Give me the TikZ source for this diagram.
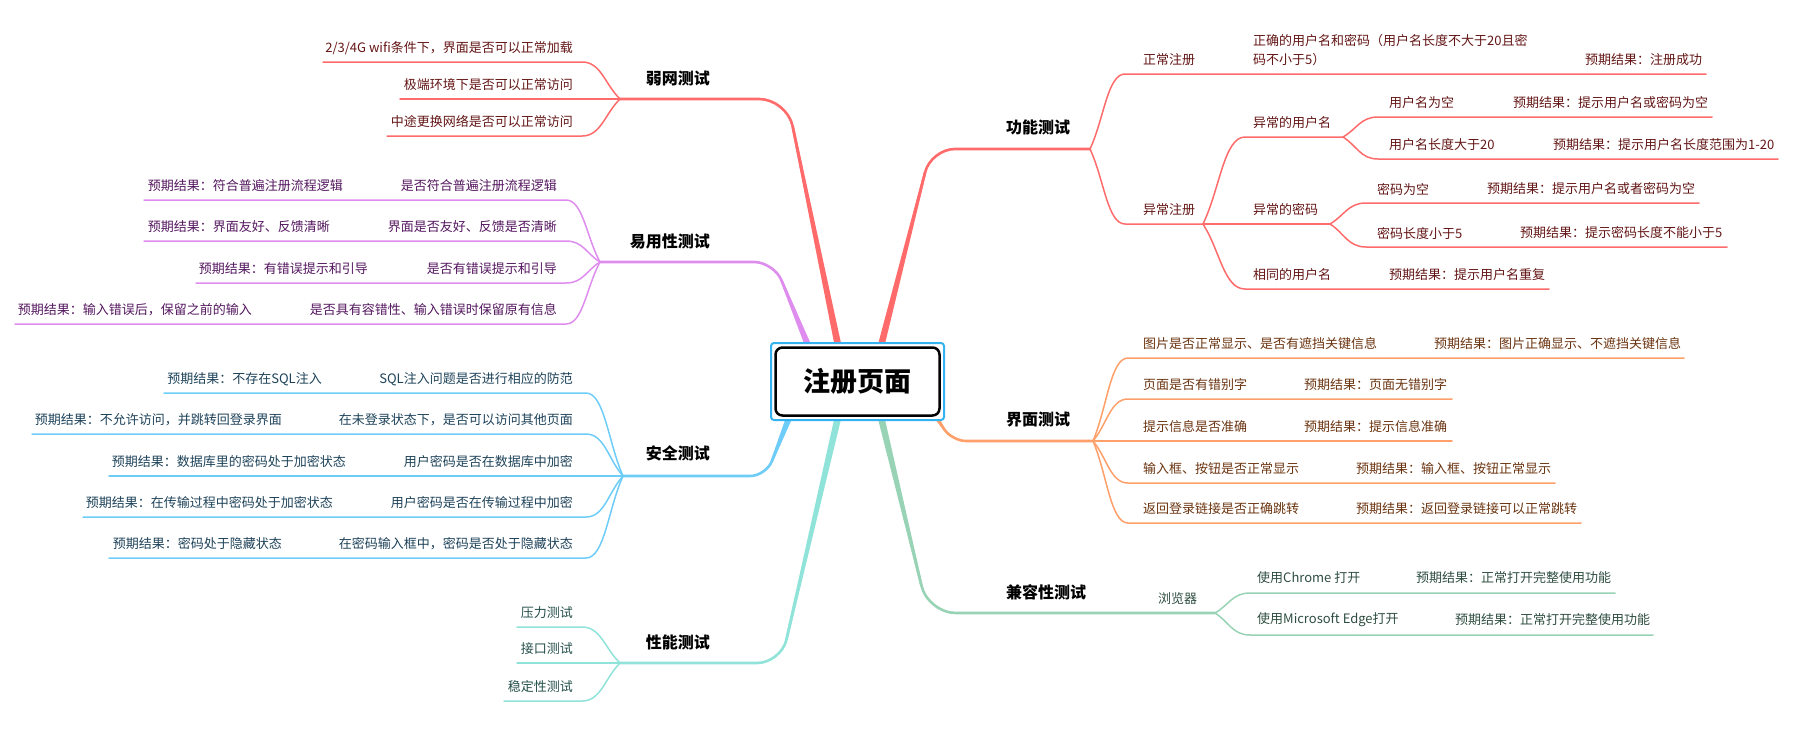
\documentclass[tikz,border=0pt]{standalone}
\usepackage{fontspec}
\newfontfamily\cjk{Noto Sans CJK SC}
\usetikzlibrary{calc}
\definecolor{br-red}{HTML}{FF6B6B}
\definecolor{br-orange}{HTML}{FF9F69}
\definecolor{br-green}{HTML}{98D3B5}
\definecolor{br-violet}{HTML}{DF8CEF}
\definecolor{br-blue}{HTML}{6ECCF8}
\definecolor{br-teal}{HTML}{8FE3D9}
\definecolor{ring-blue}{HTML}{34B3F0}
\definecolor{tx-red}{HTML}{641616}
\definecolor{tx-orange}{HTML}{6B3410}
\definecolor{tx-green}{HTML}{2E4D40}
\definecolor{tx-violet}{HTML}{54175F}
\definecolor{tx-blue}{HTML}{1D4259}
\definecolor{tx-teal}{HTML}{25504B}
\begin{document}
\begin{tikzpicture}[x=1pt, y=-1pt, line cap=round,
    txt/.style={inner sep=0pt, font=\cjk\fontsize{13}{16}\selectfont},
    topic/.style={inner sep=0pt, anchor=west, font=\cjk\bfseries\fontsize{16}{18}\selectfont},
    topicl/.style={topic, anchor=east},
    rr/.style={txt, text=tx-red, anchor=west},
    rl/.style={txt, text=tx-red, anchor=east},
    or/.style={txt, text=tx-orange, anchor=west},
    gr/.style={txt, text=tx-green, anchor=west},
    vl/.style={txt, text=tx-violet, anchor=east},
    bl/.style={txt, text=tx-blue, anchor=east},
    tl/.style={txt, text=tx-teal, anchor=east},
    ring/.style={draw=ring-blue, fill=white, line width=2pt, rounded corners=3pt, minimum width=173pt, minimum height=77pt},
    rootbox/.style={draw, fill=white, line width=2.5pt, rounded corners=7pt, minimum width=164pt, minimum height=68pt, font=\cjk\bfseries\fontsize{27}{30}\selectfont},
    fan/.style={to path={.. controls ($(\tikztostart)!0.4!(\tikztotarget)$) and ($(\tikztotarget)!0.5!(\tikztostart |- \tikztotarget)$) .. (\tikztotarget)}},
    redl/.style={draw=br-red, line width=1.5pt},
    oral/.style={draw=br-orange, line width=1.5pt},
    grnl/.style={draw=br-green, line width=1.5pt},
    viol/.style={draw=br-violet, line width=1.5pt},
    blul/.style={draw=br-blue, line width=1.5pt},
    teal/.style={draw=br-teal, line width=1.5pt}]
  \useasboundingbox (0,0) rectangle (1794,732);

  % main branches: root point, corner, junction
  \coordinate (gn-R) at (880,350);  \coordinate (gn-C) at (931,149); \coordinate (gn-J) at (1090,149);
  \coordinate (jm-R) at (930,408);  \coordinate (jm-C) at (952,441); \coordinate (jm-J) at (1093,441);
  \coordinate (jr-R) at (880,413);  \coordinate (jr-C) at (928,613); \coordinate (jr-J) at (1215,613);
  \coordinate (rw-R) at (839,350);  \coordinate (rw-C) at (787,99);  \coordinate (rw-J) at (620,99);
  \coordinate (yy-R) at (810,350);  \coordinate (yy-C) at (774,262); \coordinate (yy-J) at (600,262);
  \coordinate (aq-R) at (791,413);  \coordinate (aq-C) at (766,476); \coordinate (aq-J) at (623,476);
  \coordinate (xn-R) at (839,413);  \coordinate (xn-C) at (781,663); \coordinate (xn-J) at (620,663);

  \foreach \br/\cl/\rc in {gn/br-red/24pt, rw/br-red/28pt, yy/br-violet/20pt, aq/br-blue/16pt,
                           xn/br-teal/24pt, jm/br-orange/14pt, jr/br-green/28pt} {
    \fill[\cl] ($(\br-R)+(-3.5,0)$) -- ($(\br-C)!\rc!(\br-R)+(-1.3,0)$)
      -- ($(\br-C)!\rc!(\br-R)+(1.3,0)$) -- ($(\br-R)+(3.5,0)$) -- cycle;
    \draw[\cl, line width=2.6pt, rounded corners=\rc] (\br-R) -- (\br-C) -- (\br-J);
  }

  \node[ring] (ring) at (857.5,381.5) {};
  \node[rootbox] (root) at (857.5,381.5) {注册页面};

  % 功能测试
  \node[topic] (gn) at (1006,127) {功能测试};
  \node[rr] (zc) at (1143,60) {正常注册};
  \node[rr, align=left, font=\cjk\fontsize{13}{19}\selectfont] (zc1) at (1253,50.5) {正确的用户名和密码（用户名长度不大于20且密\\码不小于5）};
  \node[rr] (zc2) at (1585,60) {预期结果：注册成功};
  \node[rr] (yc) at (1143,210) {异常注册};
  \node[rr] (ym) at (1253,123) {异常的用户名};
  \node[rr] (ym1) at (1389,103) {用户名为空};
  \node[rr] (ym1a) at (1513,103) {预期结果：提示用户名或密码为空};
  \node[rr] (ym2) at (1389,145) {用户名长度大于20};
  \node[rr] (ym2a) at (1553,145) {预期结果：提示用户名长度范围为1-20};
  \node[rr] (mm) at (1253,210) {异常的密码};
  \node[rr] (mm1) at (1377,189) {密码为空};
  \node[rr] (mm1a) at (1487,189) {预期结果：提示用户名或者密码为空};
  \node[rr] (mm2) at (1377,233) {密码长度小于5};
  \node[rr] (mm2a) at (1520,233) {预期结果：提示密码长度不能小于5};
  \node[rr] (xt) at (1253,275) {相同的用户名};
  \node[rr] (xta) at (1389,275) {预期结果：提示用户名重复};

  \coordinate (zc-S) at (1125,74);   \coordinate (zc-E) at (1706,74);
  \coordinate (yc-S) at (1125,224);  \coordinate (yc-J) at (1203,224);
  \coordinate (ym-S) at (1245,137);  \coordinate (ym-J) at (1343,137);
  \coordinate (ym1-S) at (1378,117); \coordinate (ym1-E) at (1712,117);
  \coordinate (ym2-S) at (1378,159); \coordinate (ym2-E) at (1778,159);
  \coordinate (mm-J) at (1330,224);
  \coordinate (mm1-S) at (1366,203); \coordinate (mm1-E) at (1699,203);
  \coordinate (mm2-S) at (1366,247); \coordinate (mm2-E) at (1727,247);
  \coordinate (xt-S) at (1245,289);  \coordinate (xt-E) at (1549,289);
  \draw[redl] (gn-J) to[fan] (zc-S) -- (zc-E);
  \draw[redl] (gn-J) to[fan] (yc-S) -- (yc-J);
  \draw[redl] (yc-J) to[fan] (ym-S) -- (ym-J);
  \draw[redl] (ym-J) to[fan] (ym1-S) -- (ym1-E);
  \draw[redl] (ym-J) to[fan] (ym2-S) -- (ym2-E);
  \draw[redl] (yc-J) -- (mm-J);
  \draw[redl] (mm-J) to[fan] (mm1-S) -- (mm1-E);
  \draw[redl] (mm-J) to[fan] (mm2-S) -- (mm2-E);
  \draw[redl] (yc-J) to[fan] (xt-S) -- (xt-E);

  % 界面测试
  \node[topic] (jm) at (1006,420) {界面测试};
  \node[or] (tp) at (1143,344) {图片是否正常显示、是否有遮挡关键信息};
  \node[or] (tpa) at (1434,344) {预期结果：图片正确显示、不遮挡关键信息};
  \node[or] (cb) at (1143,385) {页面是否有错别字};
  \node[or] (cba) at (1304,385) {预期结果：页面无错别字};
  \node[or] (ts) at (1143,427) {提示信息是否准确};
  \node[or] (tsa) at (1304,427) {预期结果：提示信息准确};
  \node[or] (sr) at (1143,469) {输入框、按钮是否正常显示};
  \node[or] (sra) at (1356,469) {预期结果：输入框、按钮正常显示};
  \node[or] (fh) at (1143,509) {返回登录链接是否正确跳转};
  \node[or] (fha) at (1356,509) {预期结果：返回登录链接可以正常跳转};

  \coordinate (tp-S) at (1128,358); \coordinate (tp-E) at (1684,358);
  \coordinate (cb-S) at (1128,399); \coordinate (cb-E) at (1452,399);
  \coordinate (ts-E) at (1452,441);
  \coordinate (sr-S) at (1128,483); \coordinate (sr-E) at (1555,483);
  \coordinate (fh-S) at (1128,523); \coordinate (fh-E) at (1581,523);
  \draw[oral] (jm-J) to[fan] (tp-S) -- (tp-E);
  \draw[oral] (jm-J) to[fan] (cb-S) -- (cb-E);
  \draw[oral] (jm-J) -- (ts-E);
  \draw[oral] (jm-J) to[fan] (sr-S) -- (sr-E);
  \draw[oral] (jm-J) to[fan] (fh-S) -- (fh-E);

  % 兼容性测试
  \node[topic] (jr) at (1006,592) {兼容性测试};
  \node[gr] (llq) at (1158,599) {浏览器};
  \node[gr] (ch) at (1257,578) {使用Chrome 打开};
  \node[gr] (cha) at (1416,578) {预期结果：正常打开完整使用功能};
  \node[gr] (eg) at (1257,620) {使用Microsoft Edge打开};
  \node[gr] (ega) at (1455,620) {预期结果：正常打开完整使用功能};

  \coordinate (ch-S) at (1250,593); \coordinate (ch-E) at (1615,593);
  \coordinate (eg-S) at (1250,635); \coordinate (eg-E) at (1653,635);
  \draw[grnl] (jr-J) to[fan] (ch-S) -- (ch-E);
  \draw[grnl] (jr-J) to[fan] (eg-S) -- (eg-E);

  % 弱网测试
  \node[topicl] (rw) at (710,78) {弱网测试};
  \node[rl] (rw1) at (573,48) {2/3/4G wifi条件下，界面是否可以正常加载};
  \node[rl] (rw2) at (573,85) {极端环境下是否可以正常访问};
  \node[rl] (rw3) at (573,122) {中途更换网络是否可以正常访问};

  \coordinate (rw1-S) at (582,62);  \coordinate (rw1-E) at (323,62);
  \coordinate (rw2-E) at (400,99);
  \coordinate (rw3-S) at (582,136); \coordinate (rw3-E) at (387,136);
  \draw[redl] (rw-J) to[fan] (rw1-S) -- (rw1-E);
  \draw[redl] (rw-J) -- (rw2-E);
  \draw[redl] (rw-J) to[fan] (rw3-S) -- (rw3-E);

  % 易用性测试
  \node[topicl] (yy) at (710,241) {易用性测试};
  \node[vl] (yy1) at (557,186) {是否符合普遍注册流程逻辑};
  \node[vl] (yy1a) at (343,186) {预期结果：符合普遍注册流程逻辑};
  \node[vl] (yy2) at (557,227) {界面是否友好、反馈是否清晰};
  \node[vl] (yy2a) at (330,227) {预期结果：界面友好、反馈清晰};
  \node[vl] (yy3) at (557,269) {是否有错误提示和引导};
  \node[vl] (yy3a) at (368,269) {预期结果：有错误提示和引导};
  \node[vl] (yy4) at (557,310) {是否具有容错性、输入错误时保留原有信息};
  \node[vl] (yy4a) at (252,310) {预期结果：输入错误后，保留之前的输入};

  \coordinate (yy1-S) at (566,200); \coordinate (yy1-E) at (144,200);
  \coordinate (yy2-S) at (566,241); \coordinate (yy2-E) at (144,241);
  \coordinate (yy3-S) at (566,283); \coordinate (yy3-E) at (196,283);
  \coordinate (yy4-S) at (566,324); \coordinate (yy4-E) at (15,324);
  \draw[viol] (yy-J) to[fan] (yy1-S) -- (yy1-E);
  \draw[viol] (yy-J) to[fan] (yy2-S) -- (yy2-E);
  \draw[viol] (yy-J) to[fan] (yy3-S) -- (yy3-E);
  \draw[viol] (yy-J) to[fan] (yy4-S) -- (yy4-E);

  % 安全测试
  \node[topicl] (aq) at (710,453) {安全测试};
  \node[bl] (aq1) at (573,379) {SQL注入问题是否进行相应的防范};
  \node[bl] (aq1a) at (322,379) {预期结果：不存在SQL注入};
  \node[bl] (aq2) at (573,420) {在未登录状态下，是否可以访问其他页面};
  \node[bl] (aq2a) at (282,420) {预期结果：不允许访问，并跳转回登录界面};
  \node[bl] (aq3) at (573,462) {用户密码是否在数据库中加密};
  \node[bl] (aq3a) at (346,462) {预期结果：数据库里的密码处于加密状态};
  \node[bl] (aq4) at (573,503) {用户密码是否在传输过程中加密};
  \node[bl] (aq4a) at (333,503) {预期结果：在传输过程中密码处于加密状态};
  \node[bl] (aq5) at (573,544) {在密码输入框中，密码是否处于隐藏状态};
  \node[bl] (aq5a) at (282,544) {预期结果：密码处于隐藏状态};

  \coordinate (aq1-S) at (586,393); \coordinate (aq1-E) at (164,393);
  \coordinate (aq2-S) at (586,434); \coordinate (aq2-E) at (32,434);
  \coordinate (aq3-E) at (109,476);
  \coordinate (aq4-S) at (586,517); \coordinate (aq4-E) at (83,517);
  \coordinate (aq5-S) at (586,558); \coordinate (aq5-E) at (109,558);
  \draw[blul] (aq-J) to[fan] (aq1-S) -- (aq1-E);
  \draw[blul] (aq-J) to[fan] (aq2-S) -- (aq2-E);
  \draw[blul] (aq-J) -- (aq3-E);
  \draw[blul] (aq-J) to[fan] (aq4-S) -- (aq4-E);
  \draw[blul] (aq-J) to[fan] (aq5-S) -- (aq5-E);

  % 性能测试
  \node[topicl] (xn) at (710,642) {性能测试};
  \node[tl] (xn1) at (573,613) {压力测试};
  \node[tl] (xn2) at (573,649) {接口测试};
  \node[tl] (xn3) at (573,687) {稳定性测试};

  \coordinate (xn1-S) at (582,627); \coordinate (xn1-E) at (517,627);
  \coordinate (xn2-E) at (517,663);
  \coordinate (xn3-S) at (582,701); \coordinate (xn3-E) at (504,701);
  \draw[teal] (xn-J) to[fan] (xn1-S) -- (xn1-E);
  \draw[teal] (xn-J) -- (xn2-E);
  \draw[teal] (xn-J) to[fan] (xn3-S) -- (xn3-E);
\end{tikzpicture}
\end{document}
